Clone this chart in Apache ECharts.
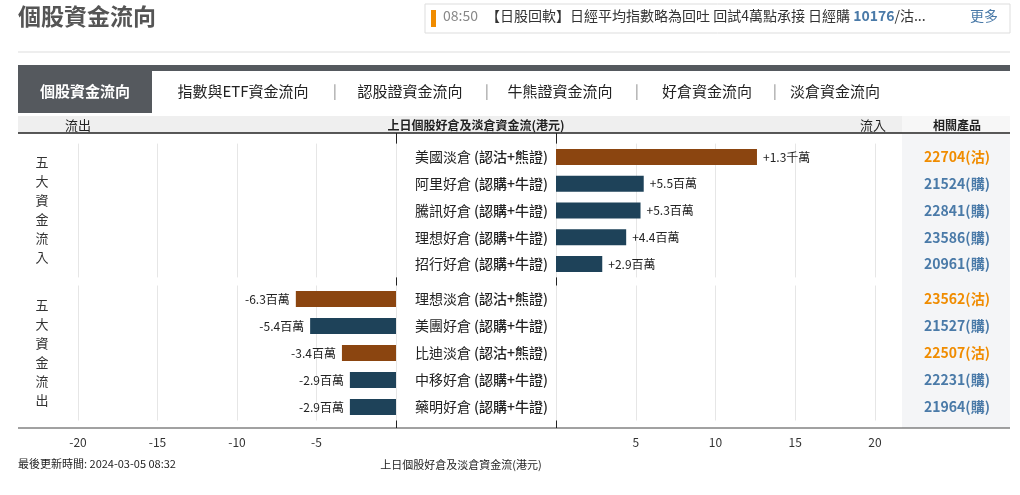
<!DOCTYPE html>
<html><head><meta charset="utf-8">
<script src="https://cdn.jsdelivr.net/npm/echarts@6/dist/echarts.min.js"></script>
<style>html,body{margin:0;padding:0;background:#fff}#c{width:1020px;height:495px}</style>
</head><body><div id="c"></div>
<script>
const inNames = ['美國淡倉','阿里好倉','騰訊好倉','理想好倉','招行好倉'];
const inTypes = ['(認沽+熊證)','(認購+牛證)','(認購+牛證)','(認購+牛證)','(認購+牛證)'];
const inValues = [12.6, 5.5, 5.3, 4.4, 2.9];
const inLabels = ['+1.3千萬','+5.5百萬','+5.3百萬','+4.4百萬','+2.9百萬'];
const inCodes = ['22704(沽)','21524(購)','22841(購)','23586(購)','20961(購)'];
const outNames = ['理想淡倉','美團好倉','比迪淡倉','中移好倉','藥明好倉'];
const outTypes = ['(認沽+熊證)','(認購+牛證)','(認沽+熊證)','(認購+牛證)','(認購+牛證)'];
const outValues = [-6.3, -5.4, -3.4, -2.9, -2.9];
const outLabels = ['-6.3百萬','-5.4百萬','-3.4百萬','-2.9百萬','-2.9百萬'];
const outCodes = ['23562(沽)','21527(購)','22507(沽)','22231(購)','21964(購)'];
const tabs = ['指數與ETF資金流向','認股證資金流向','牛熊證資金流向','好倉資金流向','淡倉資金流向'];

const F = '"Noto Sans CJK TC","Noto Sans",sans-serif';
const BROWN = '#8b4510', NAVY = '#1e4259';
const colorOf = t => t.indexOf('沽') >= 0 ? BROWN : NAVY;
const chart = echarts.init(document.getElementById('c'));

const grids = [
  {left:78, width:318, top:143.6, height:133.8},
  {left:556, width:319, top:143.6, height:133.8},
  {left:78, width:318, top:285.5, height:135},
  {left:556, width:319, top:285.5, height:135}
];
const split = {show:true, lineStyle:{color:'#e6e6e6'}};
function xA(i, left, labels){
  return {gridIndex:i, type:'value', min:left?-20:0, max:left?0:20, interval:5,
    splitLine:split, axisLine:{show:false}, axisTick:{show:false},
    axisLabel:{show:labels, margin:16, fontFamily:F, fontSize:12, color:'#333',
      formatter:v=> v===0?'':String(v)}};
}
function yLeft(i){return {gridIndex:i,type:'category',inverse:true,data:[0,1,2,3,4],show:false};}
function yMid(i, names, types){
  return {gridIndex:i,type:'category',inverse:true,data:names,position:'left',
    axisLine:{show:false},axisTick:{show:false},
    axisLabel:{margin:8,fontFamily:F,fontSize:14,color:'#222',
      formatter:(v,k)=>'{n|'+v+' }{t|'+types[k]+'}',
      rich:{n:{fontFamily:F,fontSize:14,color:'#222'},t:{fontFamily:F,fontSize:14,color:'#222',fontWeight:500}}}};
}
function yProd(i, codes){
  return {gridIndex:i,type:'category',inverse:true,data:codes,position:'right',
    axisLine:{show:false},axisTick:{show:false},
    axisLabel:{margin:82,align:'center',fontFamily:F,fontSize:14,fontWeight:'bold',
      color:(v)=> v.indexOf('沽')>=0?'#f08c00':'#4a7aa8'}};
}
function bars(xi, yi, vals, types, labels, pos){
  return {type:'bar', xAxisIndex:xi, yAxisIndex:yi, barWidth:16, silent:true,
    data: vals.map((v,k)=>({value:v, itemStyle:{color:colorOf(types[k])}})),
    label:{show:true, position:pos, distance:6, fontFamily:F, fontSize:12, color:'#222',
      formatter:p=>labels[p.dataIndex]}};
}

const g = [];
g.push({type:'text',left:18,top:5,style:{text:'個股資金流向',font:'bold 23px '+F,fill:'#555'}});
g.push({type:'rect',shape:{x:425,y:4,width:585,height:29},style:{fill:'#fff',stroke:'#ddd'}});
g.push({type:'rect',shape:{x:431,y:10,width:5,height:17},style:{fill:'#f08c00'}});
g.push({type:'text',left:443,top:9,style:{text:'08:50',font:'14px '+F,fill:'#888'}});
g.push({type:'text',left:486,top:9,style:{text:'【日股回軟】日經平均指數略為回吐 回試4萬點承接 日經購 {b|10176}/沽...',font:'14px '+F,fill:'#333',rich:{b:{font:'bold 14px '+F,fill:'#4a7aa8'}}}});
g.push({type:'text',left:970,top:9,style:{text:'更多',font:'14px '+F,fill:'#4a7aa8'}});
g.push({type:'line',shape:{x1:18,y1:52,x2:1010,y2:52},style:{stroke:'#ddd'}});
g.push({type:'rect',shape:{x:18,y:65,width:992,height:6},style:{fill:'#55595e'}});
g.push({type:'rect',shape:{x:18,y:65,width:134,height:48},style:{fill:'#55595e'}});
g.push({type:'text',x:85,y:91,style:{text:'個股資金流向',font:'bold 15px '+F,fill:'#fff',align:'center',verticalAlign:'middle'}});
const tx=[243,410,560,707,835];
const sx=[335,487,637,775];
tabs.forEach((t,k)=>{
  g.push({type:'text',x:tx[k],y:91,style:{text:t,font:'15px '+F,fill:'#222',align:'center',verticalAlign:'middle'}});
  if(k<4) g.push({type:'text',x:sx[k],y:91,style:{text:'|',font:'14px '+F,fill:'#888',align:'center',verticalAlign:'middle'}});
});
g.push({type:'rect',shape:{x:18,y:116,width:884,height:17},style:{fill:'#efefef'}});
g.push({type:'rect',shape:{x:902,y:116,width:108,height:17},style:{fill:'#f7f7f7'}});
g.push({type:'text',x:78,y:125,style:{text:'流出',font:'13px '+F,fill:'#222',align:'center',verticalAlign:'middle'}});
g.push({type:'text',x:476,y:125,style:{text:'上日個股好倉及淡倉資金流(港元)',font:'bold 12px '+F,fill:'#222',align:'center',verticalAlign:'middle'}});
g.push({type:'text',x:873,y:125,style:{text:'流入',font:'13px '+F,fill:'#222',align:'center',verticalAlign:'middle'}});
g.push({type:'text',x:957,y:125,style:{text:'相關產品',font:'bold 12px '+F,fill:'#222',align:'center',verticalAlign:'middle'}});
g.push({type:'rect',z:-10,shape:{x:902,y:134,width:108,height:294},style:{fill:'#f4f5f7'}});
g.push({type:'line',shape:{x1:18,y1:133,x2:1010,y2:133},style:{stroke:'#222',lineWidth:1.5}});
g.push({type:'line',shape:{x1:18,y1:428,x2:1010,y2:428},style:{stroke:'#444',lineWidth:1}});
g.push({type:'line',shape:{x1:396.5,y1:133,x2:396.5,y2:428},style:{stroke:'#222'}});
g.push({type:'line',shape:{x1:556.5,y1:133,x2:556.5,y2:428},style:{stroke:'#222'}});
['五大資金流入','五大資金流出'].forEach((s,j)=>{
  const y0 = j==0?162:305;
  s.split('').forEach((c,k)=>g.push({type:'text',x:42,y:y0+k*19,style:{text:c,font:'13px '+F,fill:'#333',align:'center',verticalAlign:'middle'}}));
});
g.push({type:'text',left:18,top:458,style:{text:'最後更新時間: 2024-03-05 08:32',font:'11px '+F,fill:'#222'}});
g.push({type:'text',x:461,y:465,style:{text:'上日個股好倉及淡倉資金流(港元)',font:'11px '+F,fill:'#222',align:'center',verticalAlign:'middle'}});

chart.setOption({
  animation:false,
  grid: grids,
  xAxis:[xA(0,true,false),xA(1,false,false),xA(2,true,true),xA(3,false,true)],
  yAxis:[yLeft(0), yMid(1,inNames,inTypes), yLeft(2), yMid(3,outNames,outTypes),
         yProd(1,inCodes), yProd(3,outCodes)],
  series:[
    bars(1,1,inValues,inTypes,inLabels,'right'),
    bars(2,2,outValues,outTypes,outLabels,'left')
  ],
  graphic: g
});
</script></body></html>
